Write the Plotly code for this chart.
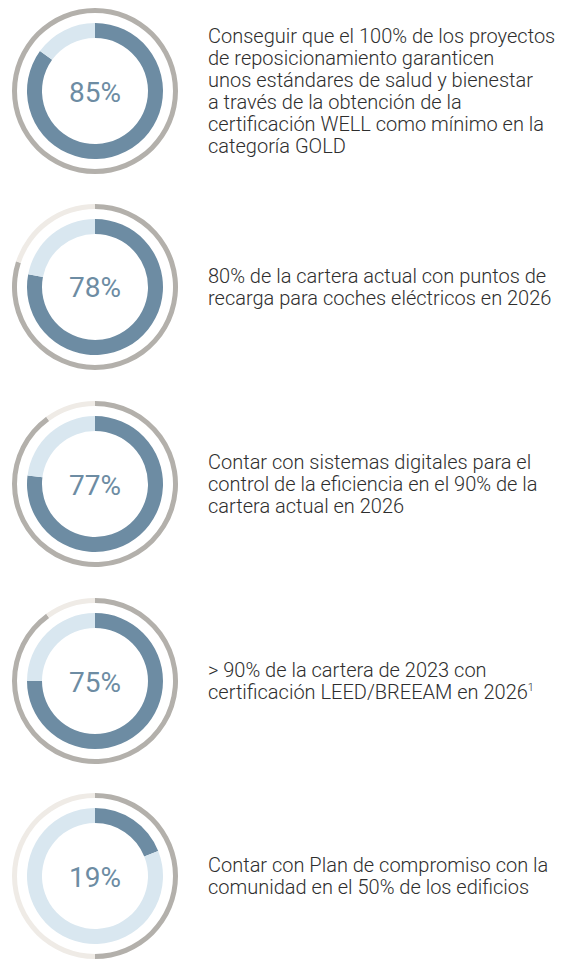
import plotly.graph_objects as go

# Progress (inner ring) and target (outer ring) for each goal, in percent
progress = [85, 78, 77, 75, 19]
targets = [100, 80, 90, 90, 50]
descriptions = [
    ["Conseguir que el 100% de los proyectos",
     "de reposicionamiento garanticen",
     "unos estándares de salud y bienestar",
     "a través de la obtención de la",
     "certificación WELL como mínimo en la",
     "categoría GOLD"],
    ["80% de la cartera actual con puntos de",
     "recarga para coches eléctricos en 2026"],
    ["Contar con sistemas digitales para el",
     "control de la eficiencia en el 90% de la",
     "cartera actual en 2026"],
    ["> 90% de la cartera de 2023 con",
     "certificación LEED/BREEAM en 2026<sup><span style='font-size:11px'>1</span></sup>"],
    ["Contar con Plan de compromiso con la",
     "comunidad en el 50% de los edificios"],
]

W, H = 569, 959
BLUE = "#6d8ca3"
LIGHT_BLUE = "#d9e7f0"
GREY = "#b3b0ab"
BEIGE = "#efebe6"
TEXT = "#2e2e2e"

CX = 95
CENTERS_Y = [91, 287, 484, 681, 876]
R_OUTER, R_INNER = 83, 68
LINE_GAP = 22
TEXT_X = 208


def domain(cx, cy, r):
    y0 = max(0.0, 1 - (cy + r) / H)
    y1 = min(1.0, 1 - (cy - r) / H)
    return dict(x=[(cx - r) / W, (cx + r) / W], y=[y0, y1])


fig = go.Figure()
for val, tgt, cy in zip(progress, targets, CENTERS_Y):
    # outer ring: target share
    fig.add_trace(go.Pie(
        values=[tgt, 100 - tgt], domain=domain(CX, cy, R_OUTER), hole=78 / 83,
        sort=False, direction="clockwise", rotation=0,
        marker=dict(colors=[GREY, BEIGE], line=dict(width=0)),
        textinfo="none", hoverinfo="skip", showlegend=False,
    ))
    # inner ring: current progress
    fig.add_trace(go.Pie(
        values=[val, 100 - val], domain=domain(CX, cy, R_INNER), hole=53 / 68,
        sort=False, direction="clockwise", rotation=0,
        marker=dict(colors=[BLUE, LIGHT_BLUE], line=dict(width=0)),
        textinfo="none", hoverinfo="skip", showlegend=False,
    ))

annotations = []
for val, lines, cy in zip(progress, descriptions, CENTERS_Y):
    annotations.append(dict(
        x=CX / W, y=1 - cy / H, xref="paper", yref="paper",
        text=f"{val}%", showarrow=False, xanchor="center", yanchor="middle",
        yshift=-1, font=dict(family="Roboto", size=28, weight=400, color=BLUE),
    ))
    n = len(lines)
    for i, line in enumerate(lines):
        ly = cy + (i - (n - 1) / 2) * LINE_GAP
        annotations.append(dict(
            x=TEXT_X / W, y=1 - ly / H, xref="paper", yref="paper",
            text=line, showarrow=False, xanchor="left", yanchor="middle", align="left",
            xshift=-2,
            font=dict(family="Roboto", size=20, weight=300, color=TEXT),
        ))

fig.update_layout(
    width=W, height=H, margin=dict(l=0, r=0, t=0, b=0),
    paper_bgcolor="white", plot_bgcolor="white",
    annotations=annotations,
)
fig.write_html("out.html")
